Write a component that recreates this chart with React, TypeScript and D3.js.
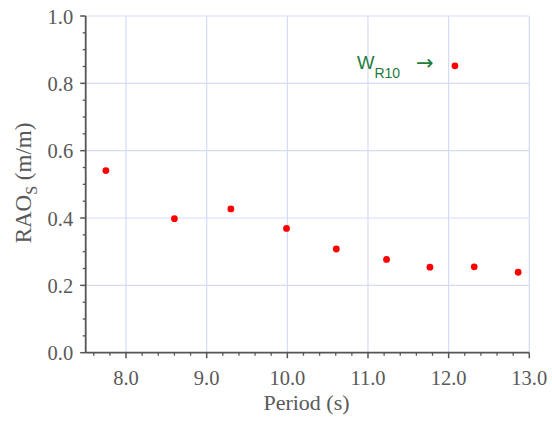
import React from "react";
import * as d3 from "d3";

const periods = [7.75, 8.6, 9.3, 9.99, 10.607, 11.23, 11.768, 12.317, 12.862, 12.078];
const raoValues = [0.541, 0.398, 0.427, 0.369, 0.308, 0.277, 0.254, 0.255, 0.239, 0.852];
const xTicks = [8, 9, 10, 11, 12, 13];
const yTicks = [0, 0.2, 0.4, 0.6, 0.8, 1.0];
const annotationLabel = "W";
const annotationSub = "R10";

export default function App() {
  const W = 552, H = 422;
  const x = d3.scaleLinear().domain([7.5, 13]).range([85.7, 529.3]);
  const y = d3.scaleLinear().domain([0, 1]).range([352.7, 16]);
  const gridColor = "#d5dbf8";
  const axisColor = "#555";
  const textColor = "#595959";
  const xMinor = d3.range(7.6, 13.001, 0.2).filter(v => Math.abs(v - Math.round(v)) > 0.01);
  const yMinor = d3.range(0.05, 1.0, 0.05).filter(v => Math.abs(v * 5 - Math.round(v * 5)) > 0.01);
  const serifStyle = { fontFamily: "'Liberation Serif', 'Times New Roman', Times, serif" };
  const sansStyle = { fontFamily: "'Liberation Sans', Arial, sans-serif" };
  const data = periods.map((p, i) => ({ p, v: raoValues[i] }));

  return (
    <svg width={W} height={H} style={{ position: "absolute", left: 0, top: 0, background: "#fff" }}>
      {xTicks.map(t => (
        <line key={"gx" + t} x1={x(t)} x2={x(t)} y1={y(0)} y2={y(1)} stroke={gridColor} strokeWidth={1.2} />
      ))}
      {yTicks.filter(t => t > 0).map(t => (
        <line key={"gy" + t} x1={x(7.5)} x2={x(13)} y1={y(t)} y2={y(t)} stroke={gridColor} strokeWidth={1.2} />
      ))}
      <line x1={x(7.5)} x2={x(7.5)} y1={y(0)} y2={y(1)} stroke={axisColor} strokeWidth={1.8} />
      <line x1={x(7.5)} x2={x(13)} y1={y(0)} y2={y(0)} stroke={axisColor} strokeWidth={1.8} />
      {yTicks.map(t => (
        <line key={"yt" + t} x1={x(7.5) - 5.5} x2={x(7.5)} y1={y(t)} y2={y(t)} stroke={axisColor} strokeWidth={1.5} />
      ))}
      {yMinor.map(t => (
        <line key={"ym" + t} x1={x(7.5) - 3} x2={x(7.5)} y1={y(t)} y2={y(t)} stroke={axisColor} strokeWidth={1.3} />
      ))}
      {xTicks.map(t => (
        <line key={"xt" + t} x1={x(t)} x2={x(t)} y1={y(0)} y2={y(0) + 5.5} stroke={axisColor} strokeWidth={1.5} />
      ))}
      {xMinor.map(t => (
        <line key={"xm" + t} x1={x(t)} x2={x(t)} y1={y(0)} y2={y(0) + 3} stroke={axisColor} strokeWidth={1.3} />
      ))}
      {yTicks.map(t => (
        <text key={"yl" + t} x={x(7.5) - 12.5} y={y(t) + 7.5} textAnchor="end" style={{ ...serifStyle, fontSize: "20.5px" }} fill={textColor}>
          {t.toFixed(1)}
        </text>
      ))}
      {xTicks.map(t => (
        <text key={"xl" + t} x={x(t)} y={y(0) + 32} textAnchor="middle" style={{ ...serifStyle, fontSize: "20.5px" }} fill={textColor}>
          {t.toFixed(1)}
        </text>
      ))}
      <text x={306.5} y={410} textAnchor="middle" style={{ ...serifStyle, fontSize: "22px" }} fill={textColor}>
        Period (s)
      </text>
      <text transform={`translate(31, ${183}) rotate(-90)`} textAnchor="middle" style={{ ...serifStyle, fontSize: "23px" }} fill={textColor}>
        RAO<tspan style={{ fontSize: "16px" }} dy={6}>S</tspan><tspan dy={-6}> (m/m)</tspan>
      </text>
      {data.map((d, i) => (
        <circle key={i} cx={x(d.p)} cy={y(d.v)} r={3.4} fill="#ff0000" />
      ))}
      <text x={357} y={68.5} style={{ ...sansStyle, fontSize: "18.5px" }} fill="#1e7b3b">
        {annotationLabel}
        <tspan style={{ fontSize: "14px" }} dy={9}>{annotationSub}</tspan>
      </text>
      <text x={416} y={70} style={{ fontFamily: "'DejaVu Sans', sans-serif", fontSize: "21px" }} fill="#1e7b3b">→</text>
    </svg>
  );
}
